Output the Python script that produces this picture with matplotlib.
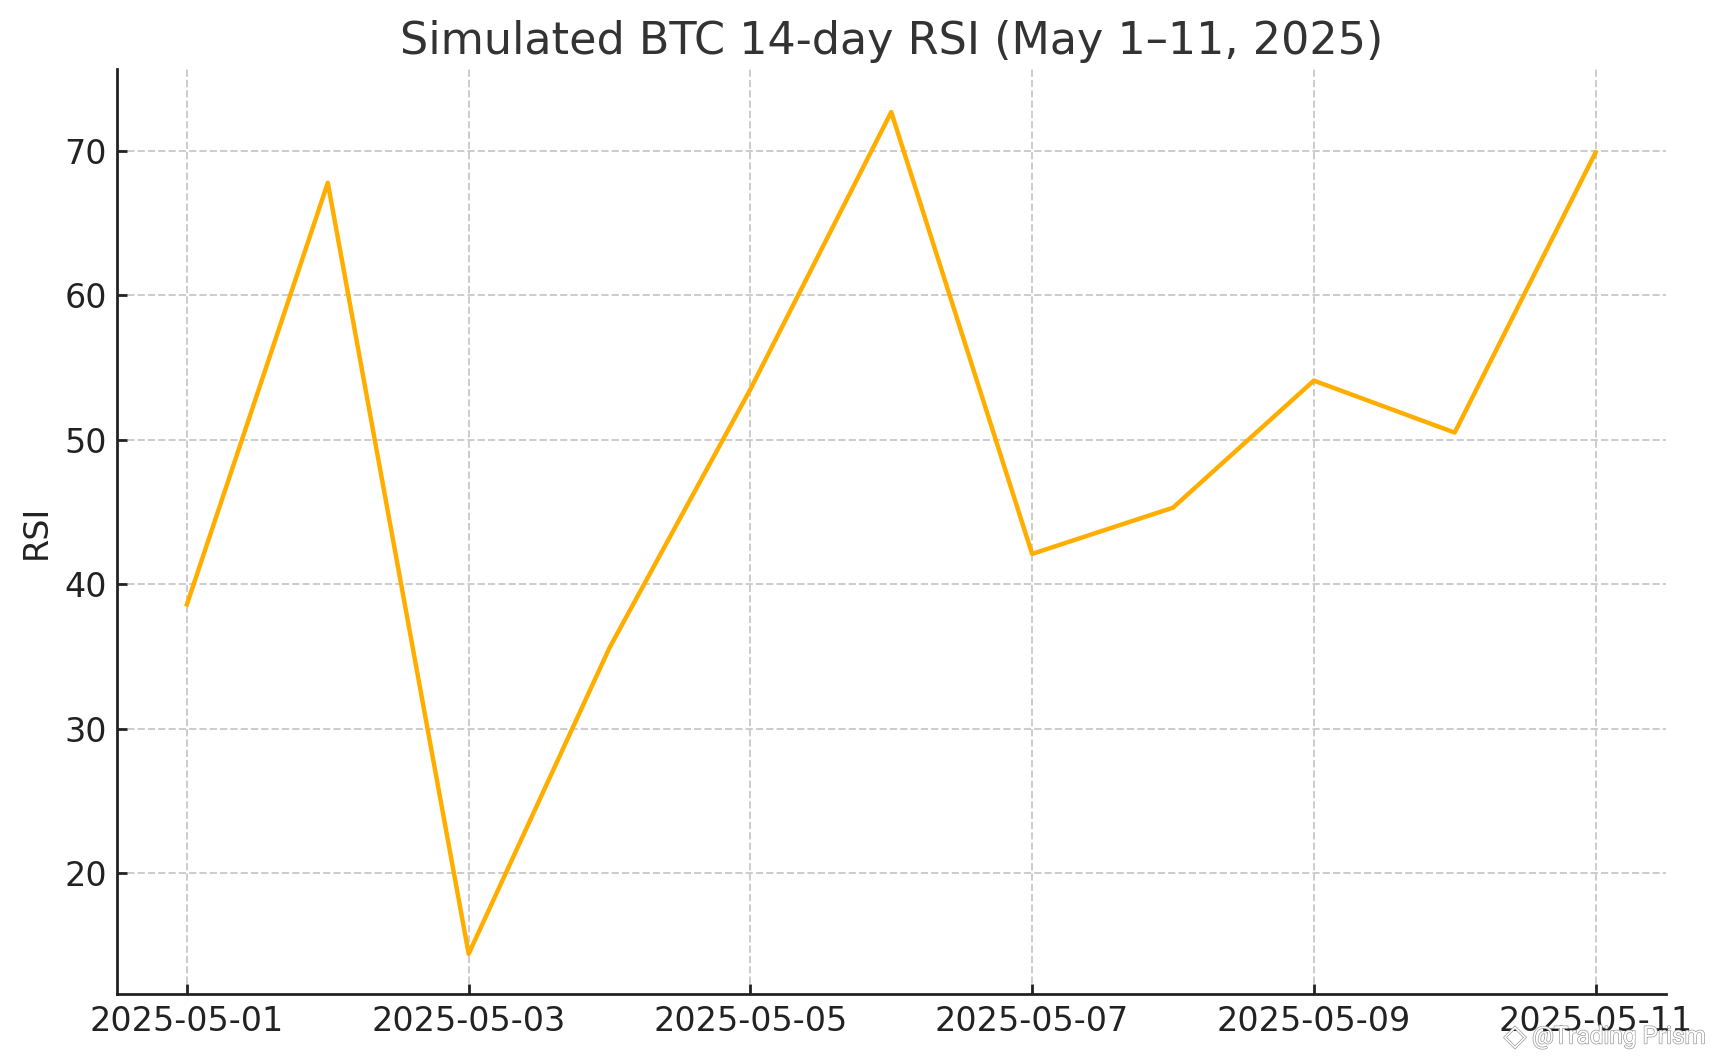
import pandas as pd
import matplotlib
matplotlib.use('Agg')
import matplotlib.pyplot as plt
import matplotlib.patheffects as pe

dates = pd.date_range('2025-05-01', '2025-05-11')
rsi = [38.6, 67.8, 14.4, 35.6, 53.5, 72.7, 42.1, 45.3, 54.1, 50.5, 69.9]
yticks = [20, 30, 40, 50, 60, 70]

fig = plt.figure(figsize=(17.13, 10.57), dpi=100)
ax = fig.add_axes([116.5/1713, 1-994/1057, (1666-116.5)/1713, (994-69)/1057])

ax.plot(dates, rsi, color='#ffae00', linewidth=3.2)
ax.set_title('Simulated BTC 14-day RSI (May 1–11, 2025)', fontsize=32, color='#333333', pad=10.5)
ax.set_ylabel('RSI', fontsize=24, color='#222222', labelpad=8)
ax.set_yticks(yticks)
ax.set_ylim(11.62, 75.68)
ax.set_xlim(dates[0] - pd.Timedelta(days=0.5), dates[-1] + pd.Timedelta(days=0.5))
ax.set_xticks(dates[::2])
ax.set_xticklabels(dates[::2].strftime('%Y-%m-%d'))
ax.tick_params(labelsize=24, labelcolor='#222222', color='#222222', direction='in', length=7, width=2, pad=8)
ax.tick_params(axis='y', pad=7)
ax.grid(True, linestyle='--', color='#cccccc', linewidth=1.4)
ax.set_axisbelow(True)
for s in ['top', 'right']:
    ax.spines[s].set_visible(False)
for s in ['left', 'bottom']:
    ax.spines[s].set_linewidth(2)
    ax.spines[s].set_color('#222222')

# outlined watermark, sits on top of the last tick label
outline = [pe.withStroke(linewidth=1.0, foreground='#9a9a9a')]
fig.text(1515/1713, 1-1037/1057, '◇', fontsize=21, color='white', ha='center', va='center',
         path_effects=outline, zorder=5)
fig.text(1705/1713, 1-1037/1057, '@Trading Prism', fontsize=17.5, family='Roboto', color='white',
         ha='right', va='center', path_effects=outline, zorder=5)

fig.savefig('out.png', dpi=100)
